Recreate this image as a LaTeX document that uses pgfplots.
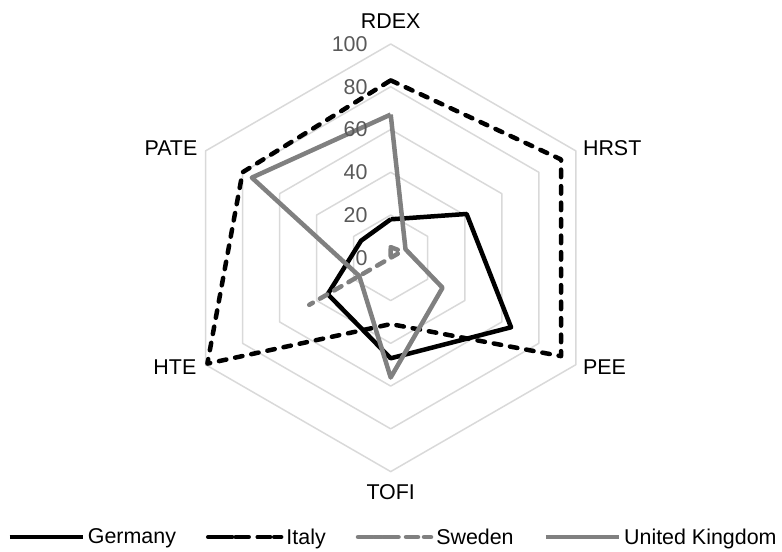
\documentclass[border=0pt]{standalone}
\usepackage{fontspec}
\setmainfont{Liberation Sans}
\usepackage{pgfplots}
\pgfplotsset{compat=1.18}
\usepgfplotslibrary{polar}
\definecolor{gridc}{HTML}{D9D9D9}
\definecolor{ser}{HTML}{808080}
\definecolor{tickc}{HTML}{595959}
\newcommand\fs{\fontsize{21.5}{25}\selectfont}
\pgfplotsset{dashleg/.style={legend image code/.code={\path (0bp,0bp) -- (73bp,0bp);
    \draw[##1, dash pattern=on 12bp off 10.5bp] (#1,0bp) -- ++(57bp,0bp);}}}
\begin{document}
\begin{tikzpicture}
\begin{polaraxis}[
 hide axis, scale only axis, width=427.6bp, height=427.6bp,
 xmin=0, xmax=360, ymin=0, ymax=100, clip=false,
 legend columns=4,
 legend style={at={(0.503,-0.153)}, anchor=center, draw=none, fill=none,
   font=\fs, inner sep=0pt, nodes={inner sep=0pt},
   /tikz/every even column/.append style={column sep=30bp},
   /tikz/every odd column/.append style={column sep=3bp}},
 legend image code/.code={\draw[#1] (0bp,0bp) -- (73bp,0bp);},
 every axis plot/.append style={line join=round},
]
% grid rings
\addplot[gridc, line width=1.5bp, forget plot] coordinates {(90,20)(30,20)(330,20)(270,20)(210,20)(150,20)(90,20)};
\addplot[gridc, line width=1.5bp, forget plot] coordinates {(90,40)(30,40)(330,40)(270,40)(210,40)(150,40)(90,40)};
\addplot[gridc, line width=1.5bp, forget plot] coordinates {(90,60)(30,60)(330,60)(270,60)(210,60)(150,60)(90,60)};
\addplot[gridc, line width=1.5bp, forget plot] coordinates {(90,80)(30,80)(330,80)(270,80)(210,80)(150,80)(90,80)};
\addplot[gridc, line width=1.5bp, forget plot] coordinates {(90,100)(30,100)(330,100)(270,100)(210,100)(150,100)(90,100)};
% series: RDEX, HRST, PEE, TOFI, HTE, PATE
\addplot[black, line width=4.5bp] coordinates {(90,18)(30,41)(330,65)(270,47)(210,34)(150,16)(90,18)};
\addlegendentry{Germany}
\addplot[black, line width=4.5bp, line cap=round, dash pattern=on 7.5bp off 9bp, dashleg=5bp]
  coordinates {(90,83)(30,92)(330,92)(270,31)(210,99)(150,80)(90,83)};
\addlegendentry{Italy}
\addplot[ser, line width=4.5bp, line cap=round, dash pattern=on 7.5bp off 9bp, dashleg=3bp]
  coordinates {(90,5)(30,6)(330,0)(270,0)(210,44)(150,0)(90,5)};
\addlegendentry{Sweden}
\addplot[ser, line width=4.5bp] coordinates {(90,67)(30,8)(330,28)(270,56)(210,17)(150,75)(90,67)};
\addlegendentry{United Kingdom}
% tick labels
\foreach \r in {0,20,40,60,80,100}{
  \edef\tmp{\noexpand\node[anchor=east, text=tickc, font=\noexpand\fs, inner sep=0pt, xshift=-23bp] at (axis cs:90,\r) {\r};}
  \tmp
}
% category labels
\node[font=\fs, inner sep=0pt, yshift=23bp] at (axis cs:90,100) {RDEX};
\node[font=\fs, inner sep=0pt, anchor=west, xshift=7bp, yshift=3bp] at (axis cs:30,100) {HRST};
\node[font=\fs, inner sep=0pt, anchor=west, xshift=7bp, yshift=-2bp] at (axis cs:330,100) {PEE};
\node[font=\fs, inner sep=0pt, yshift=-21bp] at (axis cs:270,100) {TOFI};
\node[font=\fs, inner sep=0pt, anchor=east, xshift=-9bp, yshift=-2bp] at (axis cs:210,100) {HTE};
\node[font=\fs, inner sep=0pt, anchor=east, xshift=-8bp, yshift=3bp] at (axis cs:150,100) {PATE};
\coordinate (c) at (axis cs:0,0);
\end{polaraxis}
\pgfresetboundingbox
\useasboundingbox ([shift={(-390.7bp,-294.2bp)}]c) rectangle ([shift={(391.3bp,257.8bp)}]c);
\end{tikzpicture}
\end{document}
